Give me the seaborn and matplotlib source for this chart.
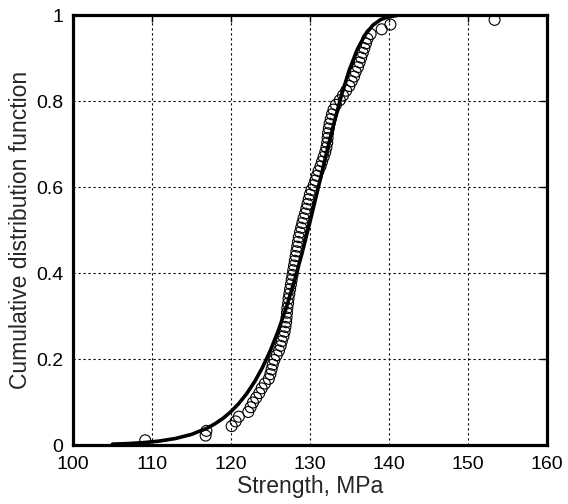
import matplotlib
matplotlib.use("Agg")
import matplotlib.pyplot as plt
import seaborn as sns
import pandas as pd
import numpy as np

# Measured strengths (sorted), MPa
strength = [109.15, 116.8, 116.9, 120.1, 120.6, 121.0, 122.2, 122.5, 122.8, 123.2,
            123.6, 123.9, 124.3, 124.8, 125.0, 125.15, 125.3, 125.5, 125.8, 126.1,
            126.3, 126.45, 126.65, 126.8, 126.9, 127.0, 127.05, 127.1, 127.15, 127.25,
            127.3, 127.4, 127.5, 127.6, 127.7, 127.8, 127.9, 128.0, 128.1, 128.2,
            128.3, 128.4, 128.5, 128.6, 128.75, 128.9, 129.05, 129.2, 129.4, 129.55,
            129.7, 129.85, 130.0, 130.2, 130.5, 130.7, 130.9, 131.1, 131.35, 131.55,
            131.75, 131.95, 132.1, 132.2, 132.25, 132.3, 132.4, 132.5, 132.65, 132.8,
            133.0, 133.3, 133.8, 134.2, 134.6, 135.0, 135.3, 135.6, 135.8, 136.1,
            136.3, 136.5, 136.7, 136.9, 137.1, 137.3, 137.7, 139.1, 140.2, 153.4]
# Empirical CDF ranks i/(n+1)
rank = list(range(1, len(strength) + 1))

# Fitted CDF curve
curve_x = [105, 107, 109, 111, 113, 115, 117, 118, 119, 120, 121, 122, 123, 124,
           125, 126, 127, 128, 129, 130, 131, 132, 133, 134, 135, 136, 137, 138,
           139, 140, 141]
curve_y = [0.0021, 0.0034, 0.0057, 0.0094, 0.0153, 0.0247, 0.0394, 0.0496, 0.0621,
           0.0776, 0.0965, 0.1195, 0.1472, 0.1804, 0.2198, 0.2658, 0.3188, 0.3789,
           0.4456, 0.5178, 0.5938, 0.6705, 0.7449, 0.8134, 0.8725, 0.9198, 0.9543,
           0.9770, 0.9899, 0.9963, 0.9989]

x_ticks = [100, 110, 120, 130, 140, 150, 160]
y_ticks = [0, 0.2, 0.4, 0.6, 0.8, 1]
y_tick_labels = ["0", "0.2", "0.4", "0.6", "0.8", "1"]

n = len(strength)
pts = pd.DataFrame({"Strength": strength,
                    "CDF": [r / (n + 1) for r in rank]})
fit = pd.DataFrame({"x": curve_x, "y": curve_y})

sns.set_theme(style="white")
plt.rcParams["font.family"] = ["Liberation Sans", "DejaVu Sans"]

fig = plt.figure(figsize=(5.68, 5.04), dpi=100)
ax = fig.add_axes([0.1285, 0.117, 0.834, 0.853])

sns.lineplot(data=fit, x="x", y="y", ax=ax, color="black", linewidth=2.6,
             zorder=3, sort=False)
sns.scatterplot(data=pts, x="Strength", y="CDF", ax=ax, marker="o", s=62,
                facecolor="none", edgecolor="black", linewidth=0.8, zorder=4)

ax.set_xlim(100, 160)
ax.set_ylim(0, 1)
ax.set_xticks(x_ticks)
ax.set_yticks(y_ticks)
ax.set_yticklabels(y_tick_labels)
ax.grid(True, color="black", linestyle=(0, (2, 2.5)), linewidth=0.8)
ax.set_axisbelow(True)

for s in ax.spines.values():
    s.set_visible(True)
    s.set_color("black")
    s.set_linewidth(2.3)

ax.tick_params(direction="in", length=5, width=1, colors="black",
               labelsize=14, top=True, right=True)
ax.tick_params(axis="x", pad=8)
ax.tick_params(axis="y", pad=7)
ax.set_xlabel("Strength, MPa", fontsize=16.5, labelpad=1)
ax.set_ylabel("Cumulative distribution function", fontsize=16.5, labelpad=3)

fig.savefig("out.png", dpi=100)
